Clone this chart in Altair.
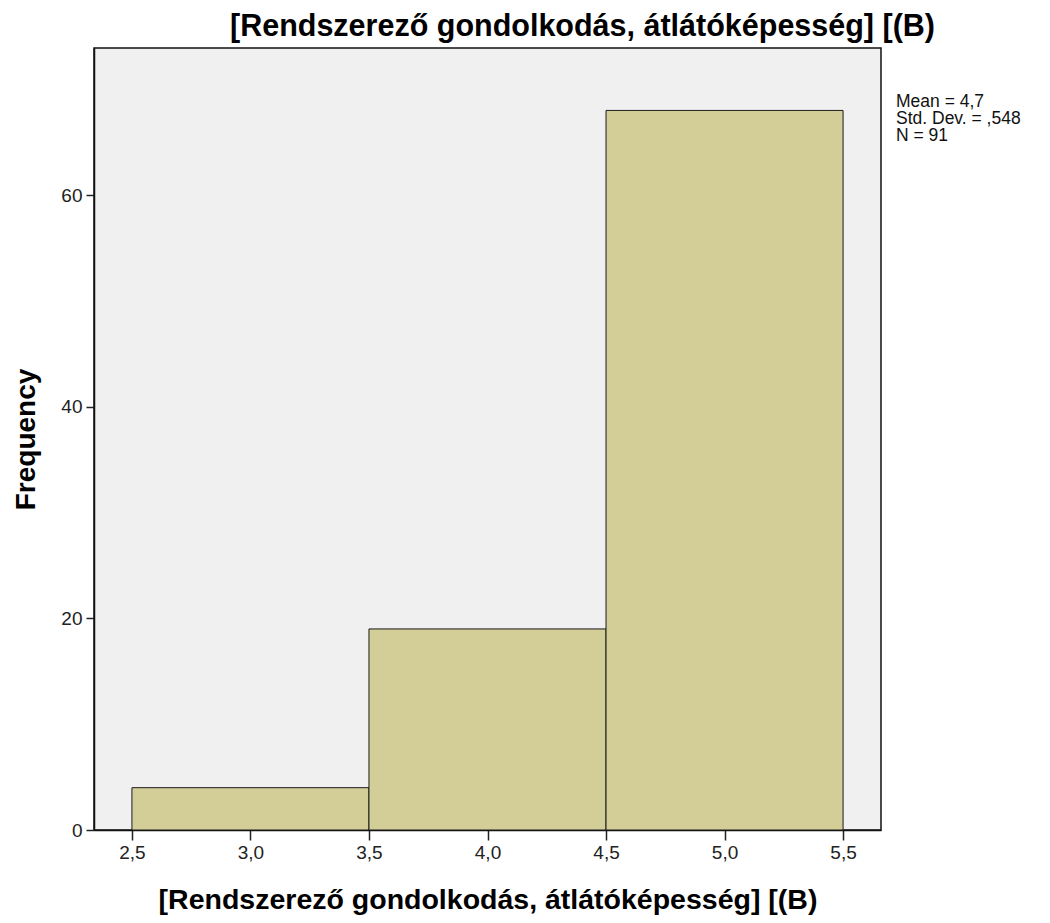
import altair as alt
import pandas as pd

# ---- data ----
bin_start = [2.5, 3.5, 4.5]
bin_end = [3.5, 4.5, 5.5]
freq = [4, 19, 68]
x_ticks = [2.5, 3.0, 3.5, 4.0, 4.5, 5.0, 5.5]
y_ticks = [0, 20, 40, 60]
stats_lines = ["Mean = 4,7", "Std. Dev. = ,548", "N = 91"]
title_text = "[Rendszerező gondolkodás, átlátóképesség] [(B)"
x_title = "[Rendszerező gondolkodás, átlátóképesség] [(B)"
y_title = "Frequency"

df = pd.DataFrame({"start": bin_start, "end": bin_end, "count": freq})
df["base"] = 0
stats_df = pd.DataFrame({"label": ["\n".join(stats_lines)]})

FONT = "Liberation Sans"
W, H = 787, 782

x_scale = alt.Scale(domain=[2.34, 5.66], nice=False, zero=False)
y_scale = alt.Scale(domain=[0, 73.9], nice=False)

bars = alt.Chart(df).mark_rect(fill="#d3ce97", stroke="#1a1a1a", strokeWidth=1).encode(
    x=alt.X(
        "start:Q",
        scale=x_scale,
        axis=alt.Axis(
            values=x_ticks,
            title=x_title,
            labelExpr="replace(format(datum.value, '.1f'), '.', ',')",
            tickSize=10,
            labelPadding=3,
            titleY=78,
            titleBaseline="alphabetic",
            titleFontSize=28.5,
        ),
    ),
    x2="end:Q",
    y=alt.Y(
        "count:Q",
        scale=y_scale,
        axis=alt.Axis(
            values=y_ticks,
            title=y_title,
            format="d",
            tickSize=8,
            labelPadding=4,
            titleX=-60,
            titleY=H / 2,
            titleAngle=-90,
            titleAlign="center",
            titleBaseline="alphabetic",
            titleFontSize=28,
        ),
    ),
    y2="base:Q",
)

stats = alt.Chart(stats_df).mark_text(
    align="left", baseline="alphabetic", lineBreak="\n",
    fontSize=17.5, lineHeight=17, font=FONT, color="#111"
).encode(
    x=alt.value(802),
    y=alt.value(59),
    text="label:N",
)

chart = alt.layer(bars, stats).properties(
    width=W,
    height=H,
    title=alt.TitleParams(
        text=title_text, fontSize=30.5, font=FONT, fontWeight="bold",
        anchor="middle", dx=95, offset=6, color="#000",
    ),
    padding={"left": 86, "top": 40, "right": 161, "bottom": 85},
    autosize=alt.AutoSizeParams(type="none"),
    background="white",
).configure_view(
    fill="#f0f0f0", stroke="#111", strokeWidth=1.5
).configure_axis(
    grid=False,
    domainColor="#111",
    domainWidth=1.5,
    tickColor="#222",
    tickWidth=1.5,
    labelFont=FONT,
    labelFontSize=19,
    labelColor="#222",
    titleFont=FONT,
    titleFontWeight="bold",
    titleColor="#000",
)

chart.save("out.html", embed_options={"renderer": "svg", "actions": False})
